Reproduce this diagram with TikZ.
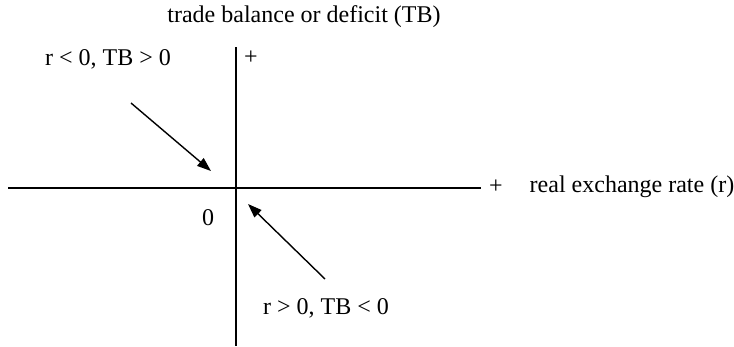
\documentclass[tikz,border=0pt]{standalone}
\usepackage{fontspec}
\setmainfont{Liberation Serif}
\usetikzlibrary{arrows.meta}
\begin{document}
\begin{tikzpicture}[x=1pt,y=-1pt,
  lbl/.style={inner sep=0pt,font=\fontsize{24}{28}\selectfont},
  axis/.style={line width=1.4pt},
  arr/.style={line width=1.4pt,-{Triangle[length=14pt,width=10pt]}}]
\useasboundingbox (0,0) rectangle (734,346);
\coordinate (vtop) at (236,47);
\coordinate (vbot) at (236,346);
\coordinate (hl) at (8,188);
\coordinate (hr) at (481,188);
\draw[axis] (vtop) -- (vbot);
\draw[axis] (hl) -- (hr);
\node[lbl] (ytitle) at (304,17) {trade balance or deficit (TB)};
\node[lbl] (yplus) at (251,58) {+};
\node[lbl] (xplus) at (496,187) {+};
\node[lbl] (xtitle) at (632,187) {real exchange rate (r)};
\node[lbl] (zero) at (208,218) {0};
\node[lbl] (q2) at (108,59) {r < 0, TB > 0};
\node[lbl] (q4) at (326,308) {r > 0, TB < 0};
\coordinate (a1s) at (131,103);
\coordinate (a1e) at (211,171);
\coordinate (a2s) at (325,279);
\coordinate (a2e) at (248,204);
\draw[arr] (a1s) -- (a1e);
\draw[arr] (a2s) -- (a2e);
\end{tikzpicture}
\end{document}
